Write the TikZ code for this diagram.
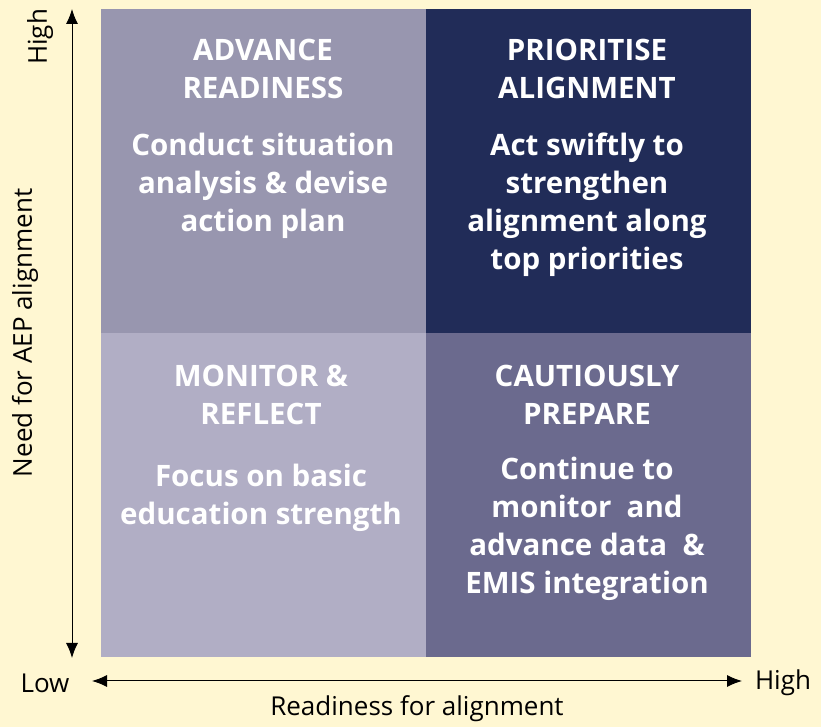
\documentclass[tikz,border=0pt]{standalone}
\usepackage{fontspec}
\setmainfont{Open Sans}
\usetikzlibrary{arrows.meta}
\definecolor{bgyellow}{HTML}{FFF7D2}
\definecolor{quadtl}{HTML}{9896AF}
\definecolor{quadtr}{HTML}{212C58}
\definecolor{quadbl}{HTML}{B1AEC5}
\definecolor{quadbr}{HTML}{6B6A8E}
\tikzset{
	quad/.style={minimum width=325pt, minimum height=324pt, inner sep=0pt, outer sep=0pt},
	quadtext/.style={text=white, align=center, font=\fontsize{29.5}{38}\selectfont\bfseries},
	axislabel/.style={font=\fontsize{26}{30}\selectfont, inner sep=0pt},
	axisarrow/.style={{Latex[length=15pt,width=12pt]}-{Latex[length=15pt,width=12pt]}, line width=1pt},
}
\begin{document}
\begin{tikzpicture}[x=1pt,y=1pt]
				\useasboundingbox (0,0) rectangle (821,727);
				\fill[bgyellow] (0,0) rectangle (821,727);
				
				\node[quad, fill=quadtl] (tl) at (263.5,556) {};
				\node[quad, fill=quadtr] (tr) at (588,556) {};
				\node[quad, fill=quadbl] (bl) at (263.5,232) {};
				\node[quad, fill=quadbr] (br) at (588,232) {};
				
				\node[quadtext] (tltitle) at (263,658) {ADVANCE\\READINESS};
				\node[quadtext] (tlbody) at (263,541.5) {Conduct situation\\analysis \& devise\\action plan};
				
				\node[quadtext] (trtitle) at (587,658) {PRIORITISE\\ALIGNMENT};
				\node[quadtext] (trbody) at (587,522.5) {Act swiftly to\\strengthen\\alignment along\\top priorities};
				
				\node[quadtext] (bltitle) at (261,332.5) {MONITOR \&\\REFLECT};
				\node[quadtext] (blbody) at (261,229.5) {Focus on basic\\education strength};
				
				\node[quadtext] (brtitle) at (587,332.5) {CAUTIOUSLY\\PREPARE};
				\node[quadtext] (brbody) at (587,198.5) {Continue to\\monitor~ and\\advance data~ \&\\EMIS integration};
				
				\coordinate (vtop) at (72,718);
				\coordinate (vbot) at (72,69);
				\coordinate (hleft) at (92,46);
				\coordinate (hright) at (742,46);
				
				\node[axislabel, rotate=90] (yhigh) at (40,690) {High};
				\node[axislabel, rotate=90] (yname) at (25,394) {Need for AEP alignment};
				\node[axislabel] (xlow) at (45,44) {Low};
				\node[axislabel] (xhigh) at (783,44) {High};
				\node[axislabel] (xname) at (417,18) {Readiness for alignment};
				
				\draw[axisarrow] (vbot) -- (vtop);
				\draw[axisarrow] (hleft) -- (hright);
			\end{tikzpicture}
\end{document}
